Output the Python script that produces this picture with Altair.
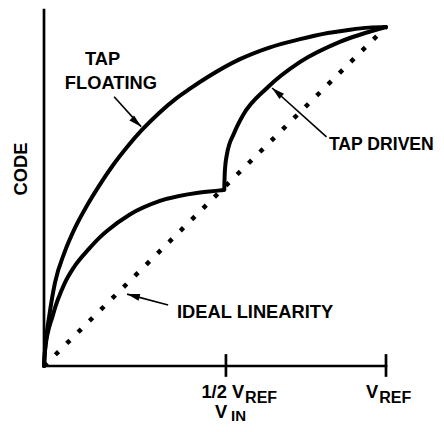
import altair as alt
import pandas as pd

# ---- data (x = VIN / VREF, y = CODE fraction) ----
float_x = [0.000, 0.004, 0.015, 0.032, 0.060, 0.091, 0.125, 0.160, 0.200, 0.243, 0.287, 0.335, 0.385,
           0.427, 0.480, 0.573, 0.661, 0.749, 0.830, 0.895, 0.950, 1.000]
float_y = [0.000, 0.060, 0.145, 0.245, 0.335, 0.408, 0.472, 0.530, 0.590, 0.646, 0.697, 0.745, 0.788,
           0.818, 0.853, 0.905, 0.940, 0.964, 0.982, 0.992, 0.998, 1.000]

drv_lo_x = [0.000, 0.003, 0.026, 0.061, 0.088, 0.132, 0.164, 0.184, 0.251, 0.339, 0.456, 0.515, 0.527]
drv_lo_y = [0.000, 0.047, 0.150, 0.245, 0.292, 0.346, 0.380, 0.398, 0.447, 0.487, 0.512, 0.518, 0.520]

drv_up_x = [0.527, 0.529, 0.535, 0.556, 0.582, 0.652, 0.749, 0.865, 1.000]
drv_up_y = [0.520, 0.578, 0.625, 0.687, 0.740, 0.820, 0.897, 0.956, 1.000]

ideal_x = [0.0, 1.0]
ideal_y = [0.0, 1.0]

# axis extents and tick positions
xaxis_x = [0.0, 1.0]
yaxis_y = [0.0, 1.05]
tick_x = [0.532, 1.0]

# annotation labels
lab_text = ["TAP", "FLOATING", "IDEAL LINEARITY", "V"]
lab_x = [0.120, 0.061, 0.389, 0.500]
lab_y = [0.888, 0.817, 0.142, -0.154]

drv_text = ["TAP DRIVEN"]
drv_tx = [0.833]
drv_ty = [0.637]

tick_main = ["1/2 V", "V"]
tick_main_x = [0.585, 0.977]
tick_main_y = [-0.094, -0.094]

sub_text = ["REF", "REF"]
sub_x = [0.588, 0.980]
sub_y = [-0.109, -0.109]

in_text = ["IN"]
in_x = [0.547]
in_y = [-0.1625]

ytitle = ["CODE"]
ytitle_x = [-0.051]
ytitle_y = [0.581]

arrow_x0 = [0.205, 0.826, 0.363]
arrow_y0 = [0.794, 0.676, 0.180]
arrow_x1 = [0.284, 0.667, 0.243]
arrow_y1 = [0.706, 0.820, 0.212]
arrow_ang = [133.0, 311.2, 285.0]

# ---- tables ----
curves = pd.concat([
    pd.DataFrame({"x": float_x, "y": float_y, "s": "floating", "o": range(len(float_x))}),
    pd.DataFrame({"x": drv_lo_x, "y": drv_lo_y, "s": "driven_lo", "o": range(len(drv_lo_x))}),
    pd.DataFrame({"x": drv_up_x, "y": drv_up_y, "s": "driven_up", "o": range(len(drv_up_x))}),
])
ideal = pd.DataFrame({"x": ideal_x, "y": ideal_y})
xaxis = pd.DataFrame({"x0": [xaxis_x[0]], "x1": [xaxis_x[1]], "y": [0.0]})
yaxis = pd.DataFrame({"x": [0.0], "y0": [yaxis_y[0]], "y1": [yaxis_y[1]]})
ticks = pd.DataFrame({"x": tick_x, "y0": [-0.032] * len(tick_x), "y1": [0.035] * len(tick_x)})
labs = pd.DataFrame({"t": lab_text, "x": lab_x, "y": lab_y})
drvl = pd.DataFrame({"t": drv_text, "x": drv_tx, "y": drv_ty})
tml = pd.DataFrame({"t": tick_main, "x": tick_main_x, "y": tick_main_y})
subs = pd.DataFrame({"t": sub_text, "x": sub_x, "y": sub_y})
inl = pd.DataFrame({"t": in_text, "x": in_x, "y": in_y})
ytl = pd.DataFrame({"t": ytitle, "x": ytitle_x, "y": ytitle_y})
arrows = pd.DataFrame({"x0": arrow_x0, "y0": arrow_y0, "x1": arrow_x1, "y1": arrow_y1, "a": arrow_ang})

xs = alt.Scale(domain=[0, 1.0], nice=False, zero=False)
ys = alt.Scale(domain=[0, 1.05], nice=False, zero=False)

FONT = "Liberation Sans"
FS = 18.3
FS_SUB = 16


def X(f):
    return alt.X(f, scale=xs, axis=None)


def Y(f):
    return alt.Y(f, scale=ys, axis=None)


def text_layer(df, size, align="left", angle=None):
    kw = dict(font=FONT, fontWeight="bold", fontSize=size, align=align,
              baseline="alphabetic", color="black")
    if angle is not None:
        kw["angle"] = angle
    return alt.Chart(df).mark_text(**kw).encode(x=X("x:Q"), y=Y("y:Q"), text="t:N")


ideal_layer = alt.Chart(ideal).mark_line(
    color="black", strokeWidth=4.5, strokeDash=[4.5, 11.5], strokeCap="butt"
).encode(x=X("x:Q"), y=Y("y:Q"))

xaxis_layer = alt.Chart(xaxis).mark_rule(color="black", strokeWidth=2.7, strokeCap="square").encode(
    x=X("x0:Q"), x2="x1:Q", y=Y("y:Q"))

yaxis_layer = alt.Chart(yaxis).mark_rule(color="black", strokeWidth=2.7, strokeCap="square").encode(
    x=X("x:Q"), y=Y("y0:Q"), y2="y1:Q")

curve_layer = alt.Chart(curves).mark_line(
    color="black", strokeWidth=4, interpolate="monotone", strokeCap="round", strokeJoin="round"
).encode(x=X("x:Q"), y=Y("y:Q"), detail="s:N", order="o:Q")

tick_layer = alt.Chart(ticks).mark_rule(color="black", strokeWidth=2.7).encode(
    x=X("x:Q"), y=Y("y0:Q"), y2="y1:Q")

shaft_layer = alt.Chart(arrows).mark_rule(color="black", strokeWidth=1.6).encode(
    x=X("x0:Q"), y=Y("y0:Q"), x2="x1:Q", y2="y1:Q")

head_layer = alt.Chart(arrows).mark_point(
    shape="M0,0 L-0.27,1 L0.27,1 Z", filled=True, color="black", opacity=1, size=650, strokeWidth=0
).encode(x=X("x1:Q"), y=Y("y1:Q"), angle=alt.Angle("a:Q", scale=None))

chart = alt.layer(
    ideal_layer, curve_layer, xaxis_layer, yaxis_layer, tick_layer, shaft_layer, head_layer,
    text_layer(labs, FS),
    text_layer(drvl, 17.6),
    text_layer(tml, FS, align="right"),
    text_layer(subs, FS_SUB),
    text_layer(inl, 15),
    text_layer(ytl, FS, align="center", angle=270),
).properties(
    width=342, height=356,
    autosize=alt.AutoSizeParams(type="none"),
    padding={"left": 36, "top": 2, "right": 50, "bottom": 58},
    background="white",
).configure_view(stroke=None)

chart.save("out.html", embed_options={"renderer": "svg", "actions": False})
